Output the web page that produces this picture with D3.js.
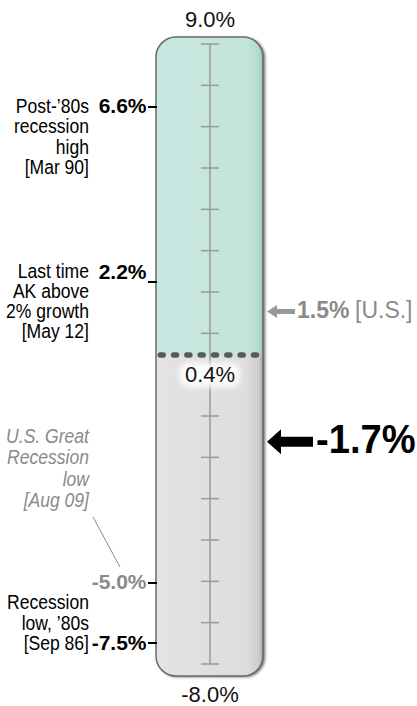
<!DOCTYPE html>
<html><head><meta charset="utf-8">
<script src="https://cdn.jsdelivr.net/npm/d3@7"></script>
<style>
html,body{margin:0;padding:0;background:#fff;}
svg{display:block;font-family:"Liberation Sans",Arial,Helvetica,sans-serif;}
</style></head>
<body>
<svg id="chart" width="417" height="706"></svg>
<script>
// ---- data ----
const scaleMin = -8.0;
const scaleMax = 9.0;
const currentValue = 0.4;           // Alaska level (fill boundary)
const usValue = 1.5;                // U.S. arrow
const changeValue = -1.7;           // big arrow
const markerValues = [6.6, 2.2, -5.0, -7.5];
const markerLabels = ["6.6%", "2.2%", "-5.0%", "-7.5%"];
const markerNotes = [
  ["Post-\u201980s", "recession", "high", "[Mar 90]"],
  ["Last time", "AK above", "2% growth", "[May 12]"],
  ["U.S. Great", "Recession", "low", "[Aug 09]"],
  ["Recession", "low, \u201980s", "[Sep 86]"]
];
const markerIsUS = [false, false, true, false];
const tickCount = 16;
const labelMax = "9.0%", labelMin = "-8.0%", labelCurrent = "0.4%";
const labelUS = "1.5%", labelUSNote = "[U.S.]", labelChange = "-1.7%";

// ---- layout ----
const svg = d3.select("#chart");
const tubeX0 = 156, tubeX1 = 263, tubeTop = 37, tubeBot = 676, cx = 210;

// hand-spaced gauge: piecewise linear scale
const y = d3.scaleLinear()
  .domain([scaleMin, -7.5, -5.0, currentValue, 2.2, 6.6, scaleMax])
  .range([664, 643, 583, 355, 282, 107, 44]);

// narrow-text helper (condensed sans look)
function ntext(g, x, yy, str, opts){
  const k = opts.k || 1;
  return g.append("text")
    .attr("transform", `translate(${x},${yy}) scale(${k},1)`)
    .attr("text-anchor", opts.anchor || "start")
    .attr("font-size", opts.size)
    .attr("font-weight", opts.weight || "normal")
    .attr("font-style", opts.style || "normal")
    .attr("fill", opts.fill || "#000")
    .text(str);
}

const defs = svg.append("defs");
const gGreen = defs.append("linearGradient").attr("id","gGreen").attr("x1","0").attr("x2","1").attr("y1","0").attr("y2","0");
gGreen.append("stop").attr("offset","0").attr("stop-color","#c9e7e1");
gGreen.append("stop").attr("offset","0.85").attr("stop-color","#c4e5da");
gGreen.append("stop").attr("offset","0.96").attr("stop-color","#b2dcc9");
gGreen.append("stop").attr("offset","1").attr("stop-color","#8fc3ad");
const gGray = defs.append("linearGradient").attr("id","gGray").attr("x1","0").attr("x2","1").attr("y1","0").attr("y2","0");
gGray.append("stop").attr("offset","0").attr("stop-color","#e3e3e3");
gGray.append("stop").attr("offset","0.85").attr("stop-color","#dddddd");
gGray.append("stop").attr("offset","0.96").attr("stop-color","#cdcdcd");
gGray.append("stop").attr("offset","1").attr("stop-color","#a8a8a8");
defs.append("clipPath").attr("id","tubeClip").append("rect")
  .attr("x",tubeX0).attr("y",tubeTop).attr("width",tubeX1-tubeX0).attr("height",tubeBot-tubeTop).attr("rx",20);
const sh = defs.append("filter").attr("id","shadow").attr("x","-20%").attr("y","-5%").attr("width","140%").attr("height","110%");
sh.append("feGaussianBlur").attr("in","SourceAlpha").attr("stdDeviation",1.5).attr("result","b");
sh.append("feOffset").attr("in","b").attr("dx",2).attr("dy",1).attr("result","o");
sh.append("feComponentTransfer").attr("in","o").attr("result","o2").append("feFuncA").attr("type","linear").attr("slope",0.6);
const m = sh.append("feMerge"); m.append("feMergeNode").attr("in","o2"); m.append("feMergeNode").attr("in","SourceGraphic");
const glow = defs.append("filter").attr("id","glow").attr("x","-30%").attr("y","-50%").attr("width","160%").attr("height","200%");
glow.append("feGaussianBlur").attr("stdDeviation",3);

// tube shadow + fills
svg.append("rect").attr("x",tubeX0).attr("y",tubeTop).attr("width",tubeX1-tubeX0).attr("height",tubeBot-tubeTop)
  .attr("rx",20).attr("fill","#ddd").attr("filter","url(#shadow)");
const fills = svg.append("g").attr("clip-path","url(#tubeClip)");
fills.append("rect").attr("x",tubeX0).attr("y",tubeTop).attr("width",tubeX1-tubeX0).attr("height",y(currentValue)-tubeTop).attr("fill","url(#gGreen)");
fills.append("rect").attr("x",tubeX0).attr("y",y(currentValue)).attr("width",tubeX1-tubeX0).attr("height",tubeBot-y(currentValue)).attr("fill","url(#gGray)");
svg.append("rect").attr("x",tubeX0).attr("y",tubeTop).attr("width",tubeX1-tubeX0).attr("height",tubeBot-tubeTop)
  .attr("rx",20).attr("fill","none").attr("stroke","#6a6a6a").attr("stroke-width",1.5);

// centre rule and decorative ticks
svg.append("line").attr("x1",cx).attr("x2",cx).attr("y1",y(scaleMax)).attr("y2",y(scaleMin))
  .attr("stroke","#9a9a9a").attr("stroke-width",1.5);
const tickPos = d3.scaleLinear().domain([0,tickCount-1]).range([y(scaleMax), y(scaleMin)]);
svg.append("g").selectAll("line").data(d3.range(tickCount)).join("line")
  .attr("x1",cx-9).attr("x2",cx+9).attr("y1",d=>tickPos(d)).attr("y2",d=>tickPos(d))
  .attr("stroke","#9a9a9a").attr("stroke-width",1.5);

// dotted boundary
svg.append("line").attr("x1",160.2).attr("x2",262).attr("y1",y(currentValue)).attr("y2",y(currentValue))
  .attr("stroke","#5a5a5a").attr("stroke-width",5.5).attr("stroke-linecap","round").attr("stroke-dasharray","3,10.33");

// 0.4% label with white glow
const curY = y(currentValue)+27;
svg.append("rect").attr("x",cx-30).attr("y",curY-19).attr("width",60).attr("height",24).attr("rx",8)
  .attr("fill","#fff").attr("filter","url(#glow)").attr("opacity",0.95);
svg.append("text").attr("x",cx).attr("y",curY).attr("text-anchor","middle")
  .attr("font-size",22).attr("fill","#111").text(labelCurrent);

// top / bottom labels
svg.append("text").attr("x",cx).attr("y",27).attr("text-anchor","middle").attr("font-size",22).attr("fill","#111").text(labelMax);
svg.append("text").attr("x",cx).attr("y",702).attr("text-anchor","middle").attr("font-size",22).attr("fill","#111").text(labelMin);

// left markers
const valX = 146.5, noteX = 89;
const valueDy = [6, -3, 6, 7];
markerValues.forEach((v,i)=>{
  const ty = y(v);
  const col = markerIsUS[i] ? "#8a8a8a" : "#000";
  svg.append("line").attr("x1",148).attr("x2",tubeX0+1).attr("y1",ty).attr("y2",ty).attr("stroke","#000").attr("stroke-width",2);
  const vy = ty + valueDy[i];
  ntext(svg, valX, vy, markerLabels[i], {anchor:"end", size:21, weight:"bold", fill:col, k:1});
  const notes = markerNotes[i];
  let firstBase, step;
  if (i===0) { firstBase = vy; step = 20.3; }
  else if (i===1) { firstBase = vy - 1.5; step = 20.0; }
  else if (i===2) { firstBase = 443; step = 21.3; }
  else { step = 20.5; firstBase = vy - step*(notes.length-1); }
  notes.forEach((d,k)=>{
    ntext(svg, noteX, firstBase+k*step, d, {anchor:"end", size:19.5, fill:col, k:0.9,
      style: markerIsUS[i] ? "italic" : "normal"});
  });
  if (markerIsUS[i]) {
    svg.append("line").attr("x1",93).attr("y1",517).attr("x2",120).attr("y2",567)
      .attr("stroke","#8a8a8a").attr("stroke-width",1);
  }
});

// right arrows
function arrow(yy, x0, x1, shaft, headW, headL, col){
  const p = d3.path();
  p.moveTo(x0, yy);
  p.lineTo(x0+headL, yy-headW/2);
  p.lineTo(x0+headL, yy-shaft/2);
  p.lineTo(x1, yy-shaft/2);
  p.lineTo(x1, yy+shaft/2);
  p.lineTo(x0+headL, yy+shaft/2);
  p.lineTo(x0+headL, yy+headW/2);
  p.closePath();
  svg.append("path").attr("d",p.toString()).attr("fill",col);
}
const usY = y(usValue)+1;
arrow(usY, 267, 295, 5, 13, 10, "#999");
ntext(svg, 297, usY+7, labelUS, {size:23, weight:"bold", fill:"#8a8a8a", k:1});
ntext(svg, 355, usY+7, labelUSNote, {size:23, fill:"#8a8a8a", k:1});
const chY = y(changeValue)-2;
arrow(chY, 267, 313, 10, 25, 14, "#000");
ntext(svg, 316, chY+11, labelChange, {size:41, weight:"bold", fill:"#000", k:0.93});
</script>
</body></html>
